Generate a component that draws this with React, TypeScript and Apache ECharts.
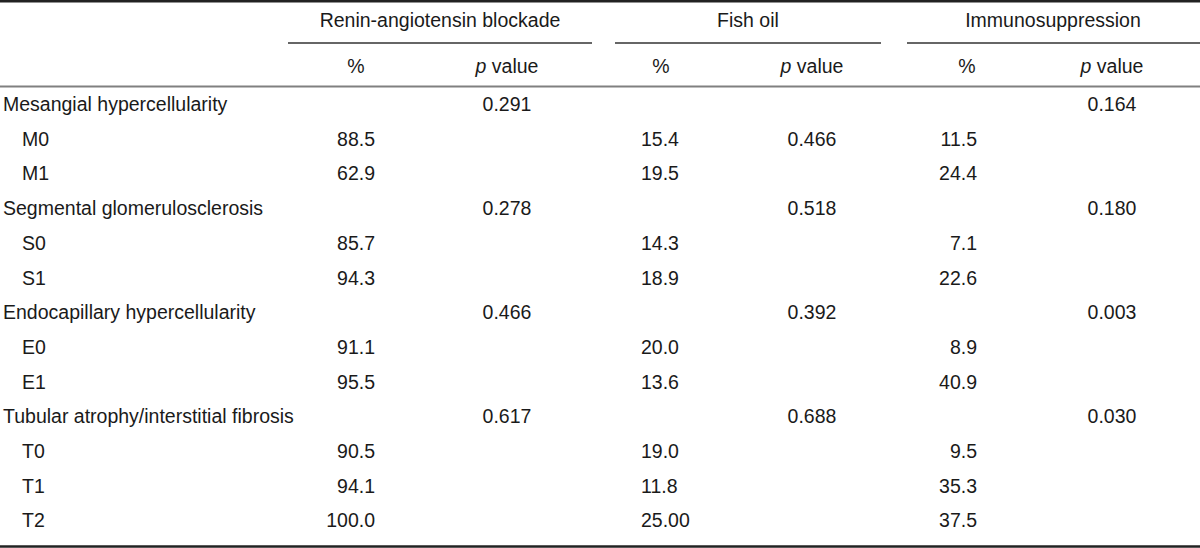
import React, { useEffect, useRef } from "react";
import * as echarts from "echarts";

// ---- Table data ----
const groupHeaders = ["Renin-angiotensin blockade", "Fish oil", "Immunosuppression"];
const subHeaders = ["%", "p value"];
const rowLabels = [
  "Mesangial hypercellularity", "M0", "M1",
  "Segmental glomerulosclerosis", "S0", "S1",
  "Endocapillary hypercellularity", "E0", "E1",
  "Tubular atrophy/interstitial fibrosis", "T0", "T1", "T2",
];
const rowIsSub = [false, true, true, false, true, true, false, true, true, false, true, true, true];
const reninPct = ["", "88.5", "62.9", "", "85.7", "94.3", "", "91.1", "95.5", "", "90.5", "94.1", "100.0"];
const reninP = ["0.291", "", "", "0.278", "", "", "0.466", "", "", "0.617", "", "", ""];
const fishPct = ["", "15.4", "19.5", "", "14.3", "18.9", "", "20.0", "13.6", "", "19.0", "11.8", "25.00"];
const fishP = ["", "0.466", "", "0.518", "", "", "0.392", "", "", "0.688", "", "", ""];
const immunoPct = ["", "11.5", "24.4", "", "7.1", "22.6", "", "8.9", "40.9", "", "9.5", "35.3", "37.5"];
const immunoP = ["0.164", "", "", "0.180", "", "", "0.003", "", "", "0.030", "", "", ""];

export default function App() {
  const ref = useRef<HTMLDivElement>(null);
  useEffect(() => {
    if (!ref.current) return;
    const chart = echarts.init(ref.current, undefined, { renderer: "svg" });
    const W = 1200;
    const FONT = "'Liberation Sans', Arial, sans-serif";
    const FS = 19.5;
    const COLOR = "#1a1a1a";
    const row0 = 104;
    const rowH = 34.7;
    const els: any[] = [];
    const txt = (text: string, x: number, y: number, align: string) => {
      els.push({
        type: "text",
        x,
        y,
        style: {
          text,
          fill: COLOR,
          font: `${FS}px ${FONT}`,
          align,
          verticalAlign: "middle",
        },
      });
    };
    const hline = (x1: number, x2: number, y: number, w: number, color: string) => {
      els.push({
        type: "line",
        shape: { x1, y1: y, x2, y2: y },
        style: { stroke: color, lineWidth: w },
      });
    };

    // rules
    hline(0, W, 1.2, 2.4, "#222");
    hline(288, 592, 43, 1.6, "#333");
    hline(615, 881, 43, 1.6, "#333");
    hline(907, W, 43, 1.6, "#333");
    hline(0, W, 86.5, 1.8, "#808080");
    hline(0, W, 546.5, 2.6, "#222");

    // group headers
    const groupCenters = [440, 748, 1053];
    groupHeaders.forEach((g, i) => txt(g, groupCenters[i], 20, "center"));

    // sub headers
    const pctCenters = [356, 661, 967];
    const pCenters = [507, 812, 1112];
    const pvalueRich = (x: number) => {
      els.push({
        type: "text",
        x,
        y: 66,
        style: {
          text: "{i|p}{n| " + subHeaders[1].slice(2) + "}",
          align: "center",
          verticalAlign: "middle",
          rich: {
            i: { font: `italic ${FS}px ${FONT}`, fill: COLOR },
            n: { font: `${FS}px ${FONT}`, fill: COLOR },
          },
        },
      });
    };
    for (let i = 0; i < 3; i++) {
      txt(subHeaders[0], pctCenters[i], 66, "center");
      pvalueRich(pCenters[i]);
    }

    // body rows
    rowLabels.forEach((lab, i) => {
      const y = row0 + rowH * i;
      txt(lab, rowIsSub[i] ? 22 : 3, y, "left");
      if (reninPct[i]) txt(reninPct[i], 375, y, "right");
      if (reninP[i]) txt(reninP[i], pCenters[0], y, "center");
      if (fishPct[i]) txt(fishPct[i], 641, y, "left");
      if (fishP[i]) txt(fishP[i], pCenters[1], y, "center");
      if (immunoPct[i]) txt(immunoPct[i], 977, y, "right");
      if (immunoP[i]) txt(immunoP[i], pCenters[2], y, "center");
    });

    chart.setOption({
      animation: false,
      backgroundColor: "#ffffff",
      graphic: { elements: els },
    });
    return () => chart.dispose();
  }, []);
  return (
    <div
      ref={ref}
      style={{ position: "fixed", left: 0, top: 0, width: 1200, height: 548, background: "#fff" }}
    />
  );
}
